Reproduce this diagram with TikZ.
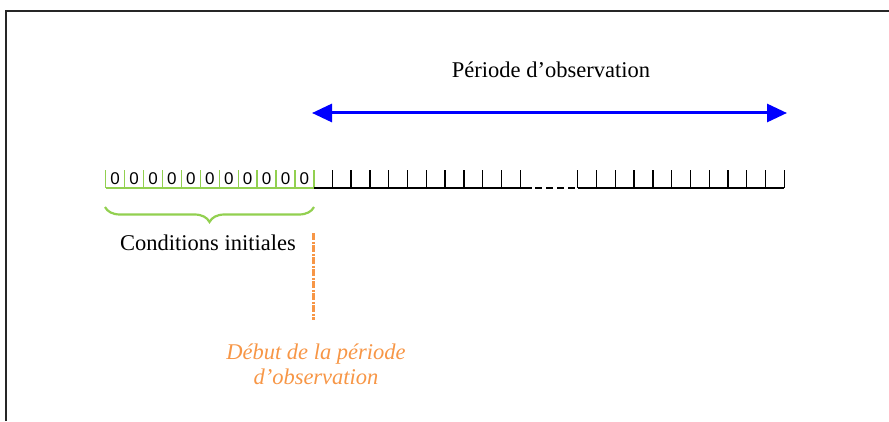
\documentclass[tikz,border=0pt]{standalone}
\usepackage{fontspec}
\setmainfont{Liberation Serif}
\newfontfamily\zerofont{Liberation Sans}
\usepackage{tikz}
\usetikzlibrary{arrows.meta, decorations.pathreplacing, positioning}
\definecolor{obsblue}{RGB}{0,0,255}
\definecolor{initgreen}{RGB}{146,208,80}
\definecolor{debutorange}{RGB}{247,150,70}

\begin{document}
\begin{tikzpicture}[x=1pt, y=1pt,
        tick/.style={line width=1.3pt},
        zero/.style={font=\zerofont\fontsize{17}{17}\selectfont, inner sep=0pt},
        lbl/.style={font=\fontsize{22.5}{25}\selectfont, align=center}]
        \useasboundingbox (0,0) rectangle (889,421);
        % cadre
        \draw[line width=1.8pt, black!85] (6,0) -- (6,410) -- (889,410);

        % --- conditions initiales (vert) ---
        \draw[initgreen, tick] (105.7,233) -- (314,233);
        \foreach \i in {0,...,11}
            \draw[initgreen, tick] (105.7+18.93*\i, 233) -- ++(0,18);
        \foreach \i in {1,...,11}
            \node[zero] (z\i) at (105.7+18.93*\i-9.46, 242.5) {0};

        % --- axe du temps ---
        \draw[tick] (314,233) -- (531.7,233);
        \foreach \j in {1,...,11}
            \draw[tick] (313.5+18.8*\j, 233) -- ++(0,18);
        \draw[tick, dash pattern=on 6.7pt off 4.4pt] (535,233) -- (575,233);
        \draw[tick] (577.7,233) -- (784.3,233);
        \foreach \k in {0,...,11}
            \draw[tick] (577.7+18.79*\k, 233) -- ++(0,18);

        % --- periode d'observation ---
        \coordinate (obsL) at (312,308);
        \coordinate (obsR) at (787,308);
        \draw[obsblue, line width=3pt,
            {Triangle[length=20pt,width=18pt]}-{Triangle[length=20pt,width=18pt]}] (obsL) -- (obsR);
        \node[lbl] (obs) at (551,351) {Période d’observation};

        % --- accolade ---
        \coordinate (braceL) at (105,214);
        \coordinate (braceR) at (314,214);
        \draw[initgreen, line width=2.2pt, decorate,
            decoration={brace, mirror, amplitude=15pt}] (braceL) -- (braceR);
        \node[lbl] (init) at (208,178) {Conditions initiales};

        % --- debut ---
        \coordinate (debtop) at (313.5,188);
        \coordinate (debbot) at (313.5,101);
        \draw[debutorange, line width=3pt, dash pattern=on 7pt off 1.5pt on 2pt off 1.5pt] (debtop) -- (debbot);
        \node[lbl, debutorange, font=\itshape\fontsize{22.5}{25}\selectfont] (debut) at (316,57)
            {Début de la période\\d’observation};
\end{tikzpicture}
\end{document}
